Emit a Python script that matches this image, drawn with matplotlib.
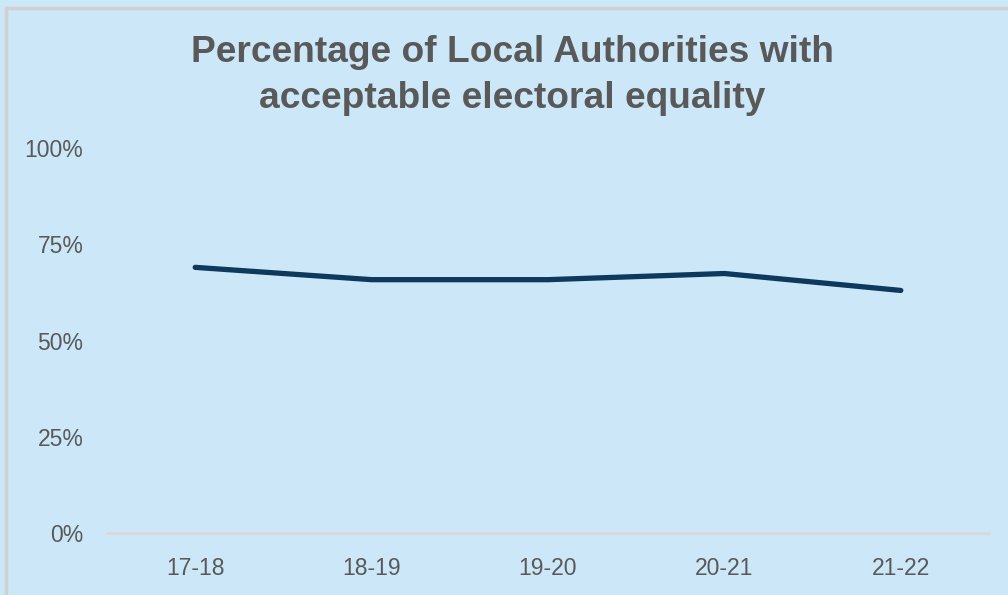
import matplotlib.pyplot as plt
from matplotlib.patches import Rectangle
from matplotlib.ticker import PercentFormatter

plt.rcParams['font.family'] = ['Liberation Sans', 'DejaVu Sans']

years = ["17-18", "18-19", "19-20", "20-21", "21-22"]
pct_acceptable = [69, 65.8, 65.8, 67.4, 63]

bg = "#cce7f7"
text_grey = "#595959"

fig = plt.figure(figsize=(10.08, 5.95), dpi=100)
fig.patch.set_facecolor(bg)

# chart border (only left/top visible in the crop)
fig.patches.append(Rectangle((6 / 1008, -0.1), 1.2, 1.1 - 8 / 595, transform=fig.transFigure,
                             fill=False, edgecolor="#d0d0d0", linewidth=2.5))

ax = fig.add_axes([107 / 1008, 62 / 595, 882 / 1008, 385 / 595])
ax.set_facecolor(bg)

x = range(len(years))
ax.plot(x, pct_acceptable, color="#0d3a5c", linewidth=3.8, solid_capstyle="round")

ax.set_xlim(-0.5, len(years) - 0.5)
ax.set_ylim(0, 100)
ax.set_yticks([0, 25, 50, 75, 100])
ax.yaxis.set_major_formatter(PercentFormatter(decimals=0))
ax.set_xticks(list(x))
ax.set_xticklabels(years)

for s in ["top", "right", "left"]:
    ax.spines[s].set_visible(False)
ax.spines["bottom"].set_color("#d9d9d9")
ax.spines["bottom"].set_linewidth(2)
ax.tick_params(length=0, labelsize=16.5, labelcolor=text_grey)
ax.tick_params(axis="y", pad=17)
ax.tick_params(axis="x", pad=17)

fig.text(0.508, 0.873, "Percentage of Local Authorities with\nacceptable electoral equality",
         ha="center", va="center", fontsize=26.7, fontweight="bold", color=text_grey,
         linespacing=1.38)

fig.savefig("out.png", dpi=100, facecolor=bg)
